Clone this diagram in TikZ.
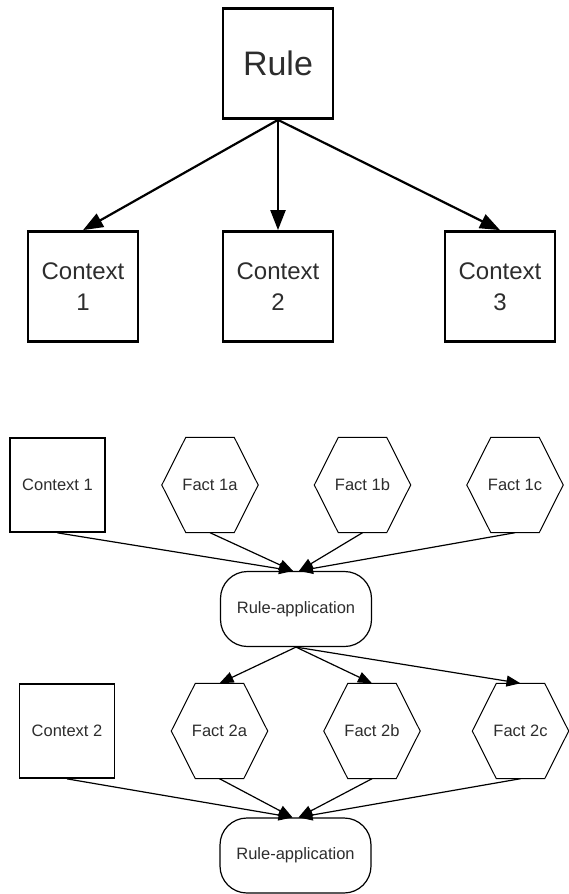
\documentclass[tikz,border=0pt]{standalone}
\usepackage{fontspec}
\setmainfont{Liberation Sans}
\definecolor{ruleInk}{RGB}{45,45,45}
\usetikzlibrary{arrows.meta,positioning}

\begin{document}
\begin{tikzpicture}[x=1pt, y=-1pt,
    bigbox/.style={draw, line width=2.8pt, minimum width=110pt, minimum height=110pt, inner sep=0pt, align=center, text=ruleInk},
    ctxbox/.style={draw, line width=1.7pt, minimum width=95pt, minimum height=94pt, inner sep=0pt, text=ruleInk, font=\fontsize{16.5}{20}\selectfont},
    factbox/.style={minimum width=96pt, minimum height=95pt, inner sep=0pt, text=ruleInk, font=\fontsize{16.5}{20}\selectfont},
    applybox/.style={draw, line width=1.2pt, rounded corners=27pt, minimum width=151pt, minimum height=75pt, inner sep=0pt, text=ruleInk, font=\fontsize{16.5}{20}\selectfont},
    bigarrow/.style={line width=2.2pt, -{Triangle[length=20pt,width=15pt]}},
    smallarrow/.style={line width=1.2pt, -{Triangle[length=14pt,width=11pt]}}]
    \useasboundingbox (0,0) rectangle (569,894);

    % rule and its contexts
    \node[bigbox, font=\fontsize{34}{40}\selectfont] (rule) at (278,63.5) {Rule};
    \node[bigbox, font=\fontsize{24}{31}\selectfont] (ctxA) at (83,286.5) {Context\\1};
    \node[bigbox, font=\fontsize{24}{31}\selectfont] (ctxB) at (278,286.5) {Context\\2};
    \node[bigbox, font=\fontsize{24}{31}\selectfont] (ctxC) at (500,286.5) {Context\\3};

    \draw[bigarrow] (rule.south) -- (ctxA.north);
    \draw[bigarrow] (rule.south) -- (ctxB.north);
    \draw[bigarrow] (rule.south) -- (ctxC.north);

    % first application
    \node[ctxbox] (c1) at (57.5,485) {Context 1};
    \node[factbox] (f1a) at (210,485) {Fact 1a};
    \node[factbox] (f1b) at (362.5,485) {Fact 1b};
    \node[factbox] (f1c) at (515,485) {Fact 1c};
    \node[applybox] (ra1) at (296,609) {Rule-application};

    % second application
    \node[ctxbox] (c2) at (67,731) {Context 2};
    \node[factbox] (f2a) at (219.5,731) {Fact 2a};
    \node[factbox] (f2b) at (372,731) {Fact 2b};
    \node[factbox] (f2c) at (520.5,731) {Fact 2c};
    \node[applybox] (ra2) at (295.5,855.5) {Rule-application};

    \foreach \f in {f1a,f1b,f1c,f2a,f2b,f2c}
        \draw[line width=1pt] (\f.west) -- ([xshift=24pt]\f.north west) -- ([xshift=-24pt]\f.north east)
            -- (\f.east) -- ([xshift=-24pt]\f.south east) -- ([xshift=24pt]\f.south west) -- cycle;

    \draw[smallarrow] (c1.south) -- ([xshift=-3pt]ra1.north);
    \draw[smallarrow] (f1a.south) -- ([xshift=-3pt]ra1.north);
    \draw[smallarrow] (f1b.south) -- ([xshift=3pt]ra1.north);
    \draw[smallarrow] (f1c.south) -- ([xshift=3pt]ra1.north);

    \draw[smallarrow] (ra1.south) -- (f2a.north);
    \draw[smallarrow] (ra1.south) -- (f2b.north);
    \draw[smallarrow] (ra1.south) -- (f2c.north);

    \draw[smallarrow] (c2.south) -- ([xshift=-3pt]ra2.north);
    \draw[smallarrow] (f2a.south) -- ([xshift=-3pt]ra2.north);
    \draw[smallarrow] (f2b.south) -- ([xshift=3pt]ra2.north);
    \draw[smallarrow] (f2c.south) -- ([xshift=3pt]ra2.north);
\end{tikzpicture}
\end{document}
